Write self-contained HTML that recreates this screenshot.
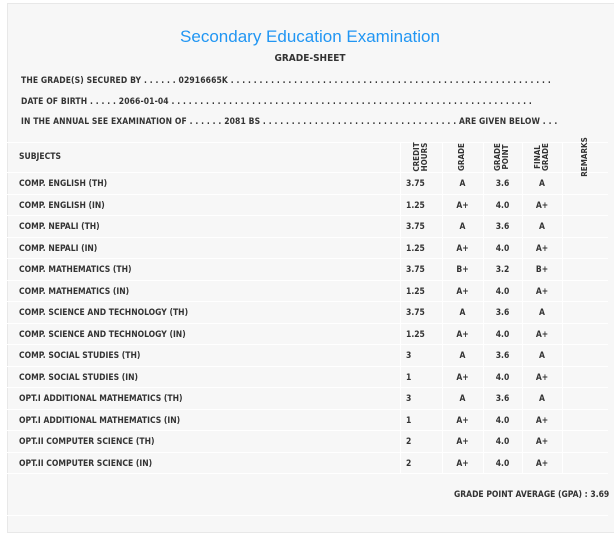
<!DOCTYPE html>
<html><head><meta charset="utf-8">
<style>
*{margin:0;padding:0;box-sizing:border-box}
body{width:614px;height:526px;background:#fff;overflow:hidden;font-family:"DejaVu Sans Condensed","DejaVu Sans","Liberation Sans",sans-serif;color:#333}
#panel{position:absolute;left:7px;top:3px;width:610px;height:530px;background:#f7f7f7;border:1px solid #e8e8e8}
.abs{position:absolute;white-space:nowrap}
#title{left:0;width:620px;text-align:center;top:27px;font-size:17px;color:#2196f3;font-family:"Liberation Sans",sans-serif}
#sub{left:0;width:620px;text-align:center;top:53px;font-size:10px;font-weight:bold}
.info{left:21px;font-size:8.5px;font-weight:bold;letter-spacing:0.1px}
.hl{position:absolute;left:7px;width:601px;height:1px;background:#fff}
.vl{position:absolute;width:1px;background:#fff}
.cell{position:absolute;font-size:8.5px;font-weight:bold;white-space:nowrap}
.rot{position:absolute;transform:rotate(-90deg);transform-origin:center;font-size:8px;font-weight:bold;text-align:center;line-height:8px;white-space:nowrap}
</style></head><body>
<div id="panel"></div>
<div class="abs" id="title">Secondary Education Examination</div>
<div class="abs" id="sub">GRADE-SHEET</div>
<div class="abs info" style="top:76px">THE GRADE(S) SECURED BY . . . . . . 02916665K . . . . . . . . . . . . . . . . . . . . . . . . . . . . . . . . . . . . . . . . . . . . . . . . . . . . . . . .</div>
<div class="abs info" style="top:97px">DATE OF BIRTH . . . . . 2066-01-04 . . . . . . . . . . . . . . . . . . . . . . . . . . . . . . . . . . . . . . . . . . . . . . . . . . . . . . . . . . . . . . .</div>
<div class="abs info" style="top:117px">IN THE ANNUAL SEE EXAMINATION OF . . . . . . 2081 BS . . . . . . . . . . . . . . . . . . . . . . . . . . . . . . . . . . ARE GIVEN BELOW . . .</div>
<div id="table"></div>
<div class="abs" style="left:454px;top:490px;font-size:8.5px;font-weight:bold">GRADE POINT AVERAGE (GPA) : 3.69</div>
<div class="hl" style="top:515px"></div>
<script>
const subjects=["COMP. ENGLISH (TH)","COMP. ENGLISH (IN)","COMP. NEPALI (TH)","COMP. NEPALI (IN)","COMP. MATHEMATICS (TH)","COMP. MATHEMATICS (IN)","COMP. SCIENCE AND TECHNOLOGY (TH)","COMP. SCIENCE AND TECHNOLOGY (IN)","COMP. SOCIAL STUDIES (TH)","COMP. SOCIAL STUDIES (IN)","OPT.I ADDITIONAL MATHEMATICS (TH)","OPT.I ADDITIONAL MATHEMATICS (IN)","OPT.II COMPUTER SCIENCE (TH)","OPT.II COMPUTER SCIENCE (IN)"];
const credits=["3.75","1.25","3.75","1.25","3.75","1.25","3.75","1.25","3","1","3","1","2","2"];
const grades=["A","A+","A","A+","B+","A+","A","A+","A","A+","A","A+","A+","A+"];
const points=["3.6","4.0","3.6","4.0","3.2","4.0","3.6","4.0","3.6","4.0","3.6","4.0","4.0","4.0"];
const finals=["A","A+","A","A+","B+","A+","A","A+","A","A+","A","A+","A+","A+"];
const t=document.getElementById('table');
const rowTop=172,rowH=21.5,headTop=142;
function add(html,cls,style){const d=document.createElement('div');d.className=cls;d.style.cssText=style;d.innerHTML=html;t.appendChild(d);return d;}
add('','hl','top:'+headTop+'px');
for(let i=0;i<=subjects.length;i++){add('','hl','top:'+Math.round(rowTop+i*rowH)+'px');}
const vx=[400,442,483,522,562];
const bottom=Math.round(rowTop+subjects.length*rowH);
vx.forEach(x=>{add('','vl','left:'+x+'px;top:'+headTop+'px;height:'+(bottom-headTop)+'px');});
let h=add('SUBJECTS','cell','left:19px;top:152px');


const heads=[["CREDIT<br>HOURS",421],["GRADE",462],["GRADE<br>POINT",502],["FINAL<br>GRADE",542],["REMARKS",585]];
heads.forEach((hd,i)=>{const two=hd[0].includes('<br>');const d=add(hd[0],'rot','left:'+(hd[1]-25)+'px;top:'+(157-(two?8:4))+'px;width:50px;height:'+(two?16:8)+'px');

});
subjects.forEach((s,i)=>{const y=Math.round(rowTop+i*rowH+7);
let a=add(s,'cell','left:19px;top:'+y+'px');


let b=add(credits[i],'cell','left:406px;top:'+y+'px');


let c=add(grades[i],'cell','left:442px;width:41px;text-align:center;top:'+y+'px');


let e=add(points[i],'cell','left:483px;width:39px;text-align:center;top:'+y+'px');


let f=add(finals[i],'cell','left:522px;width:40px;text-align:center;top:'+y+'px');

});
</script>
</body></html>
